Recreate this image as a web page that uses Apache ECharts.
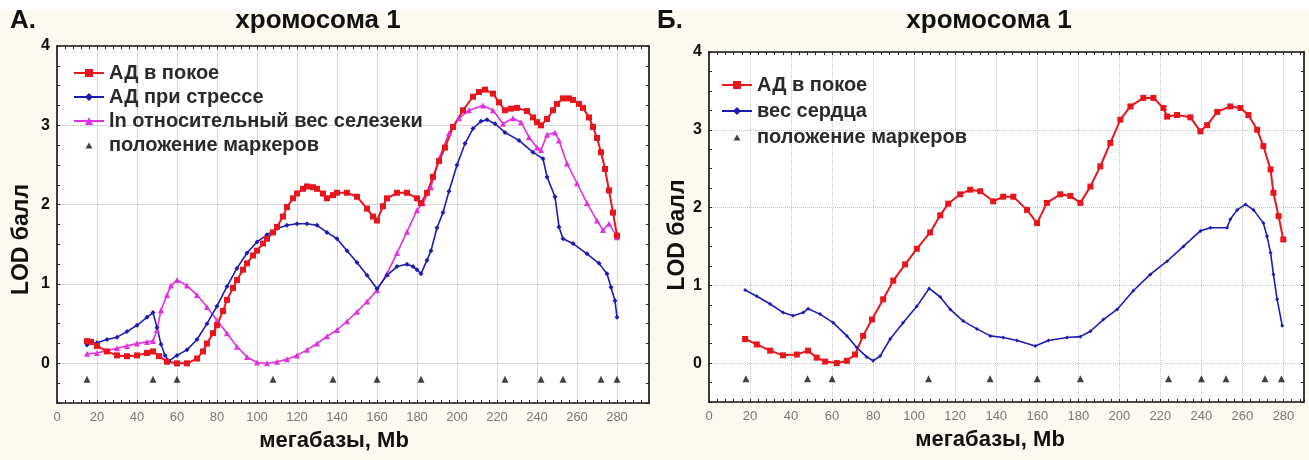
<!DOCTYPE html>
<html><head><meta charset="utf-8">
<script src="https://cdn.jsdelivr.net/npm/echarts@6/dist/echarts.min.js"></script>
<style>html,body{margin:0;padding:0;background:#fcf9f1}#c{width:1309px;height:460px}</style>
</head><body><div id="c"></div>
<script>
// ---------- data (Mb, LOD) ----------
const aRest = [[15,0.28],[17,0.27],[20,0.22],[25,0.15],[30,0.10],[35,0.09],[40,0.10],[45,0.13],[48,0.15],[51,0.09],[55,0.02],[60,0.0],[65,0.0],[70,0.06],[73,0.15],[75,0.25],[78,0.38],[80,0.48],[83,0.66],[85,0.8],[88,0.95],[90,1.05],[93,1.18],[95,1.26],[98,1.36],[100,1.42],[103,1.51],[105,1.57],[108,1.65],[110,1.72],[113,1.85],[115,1.97],[118,2.08],[120,2.14],[123,2.2],[125,2.23],[128,2.22],[130,2.2],[133,2.14],[135,2.08],[138,2.12],[140,2.15],[145,2.15],[150,2.1],[155,1.95],[158,1.85],[160,1.8],[163,1.98],[165,2.08],[170,2.15],[175,2.15],[180,2.08],[182,2.02],[185,2.15],[188,2.35],[191,2.55],[194,2.72],[198,2.98],[203,3.19],[208,3.36],[211,3.42],[214,3.45],[218,3.4],[221,3.29],[224,3.19],[227,3.21],[230,3.22],[235,3.18],[238,3.1],[240,3.04],[242,3.0],[245,3.08],[248,3.19],[250,3.27],[253,3.34],[256,3.34],[258,3.32],[261,3.27],[263,3.22],[266,3.1],[268,2.98],[270,2.84],[272,2.66],[274,2.45],[276,2.18],[278,1.9],[280,1.61]];
const aStress = [[15,0.23],[20,0.26],[25,0.3],[30,0.33],[35,0.4],[40,0.48],[45,0.58],[48,0.64],[50,0.45],[52,0.24],[54,0.1],[56,0.03],[60,0.1],[65,0.17],[70,0.3],[75,0.5],[80,0.72],[85,0.97],[90,1.2],[95,1.39],[100,1.53],[105,1.62],[110,1.7],[115,1.74],[120,1.76],[125,1.76],[130,1.74],[135,1.65],[140,1.57],[145,1.42],[150,1.27],[155,1.11],[160,0.94],[165,1.11],[170,1.22],[175,1.25],[178,1.22],[180,1.18],[182,1.13],[185,1.3],[187,1.42],[190,1.71],[193,1.9],[196,2.17],[200,2.5],[204,2.77],[208,2.96],[212,3.05],[215,3.07],[219,3.02],[224,2.91],[231,2.81],[238,2.66],[243,2.58],[245,2.35],[249,2.1],[251,1.72],[253,1.57],[258,1.51],[265,1.38],[271,1.26],[275,1.13],[277,0.96],[279,0.79],[280,0.58]];
const aSpleen = [[15,0.12],[20,0.13],[25,0.16],[30,0.19],[35,0.22],[40,0.25],[45,0.27],[48,0.28],[50,0.42],[52,0.67],[55,0.86],[57,0.98],[60,1.05],[65,0.98],[70,0.86],[75,0.71],[80,0.54],[85,0.38],[90,0.21],[95,0.08],[100,0.01],[105,0.0],[110,0.02],[115,0.05],[120,0.1],[125,0.17],[130,0.25],[135,0.34],[140,0.42],[145,0.53],[150,0.65],[155,0.78],[160,0.92],[165,1.13],[170,1.39],[175,1.66],[180,1.93],[183,2.02],[187,2.22],[191,2.58],[196,2.9],[201,3.09],[206,3.19],[213,3.25],[218,3.19],[223,3.02],[228,3.09],[232,3.04],[236,2.85],[240,2.72],[242,2.69],[245,2.88],[249,2.91],[251,2.81],[255,2.52],[260,2.27],[265,2.02],[270,1.8],[273,1.68],[276,1.76],[280,1.59]];
const aMarkersX = [15,48,60,108,138,160,182,224,242,253,272,280];

const bRest = [[17.6,0.31],[23.3,0.24],[29.8,0.16],[36.1,0.10],[42.8,0.11],[48.3,0.16],[52.5,0.07],[56.6,0.02],[62.3,0.0],[67.2,0.03],[71.2,0.11],[75.1,0.35],[79.4,0.56],[84.9,0.82],[89.8,1.06],[95.6,1.27],[101.3,1.47],[107.8,1.68],[112.7,1.9],[116.6,2.05],[122.4,2.17],[127.3,2.23],[132.2,2.21],[138.5,2.08],[143.4,2.14],[148.3,2.14],[155,1.97],[159.9,1.8],[164.7,2.06],[171.2,2.17],[176.1,2.15],[181,2.06],[185.9,2.27],[190.7,2.53],[195.6,2.83],[200.5,3.13],[205.4,3.3],[211.7,3.41],[216.6,3.41],[221.5,3.28],[223.3,3.17],[228.1,3.19],[234.6,3.16],[239.5,2.98],[242.8,3.06],[247.7,3.23],[254.1,3.3],[259,3.28],[262.9,3.19],[267.2,3.0],[270.2,2.79],[273.7,2.49],[275.1,2.19],[277.6,1.89],[279.9,1.59]];
const bHeart = [[17.6,0.94],[23.3,0.86],[29.8,0.76],[36.1,0.65],[41,0.61],[46,0.65],[48.3,0.7],[54.1,0.63],[60.5,0.52],[67.2,0.35],[72,0.2],[76.9,0.08],[80,0.03],[83.4,0.09],[88.3,0.31],[94.6,0.52],[101.3,0.73],[107.3,0.96],[112.7,0.85],[117.6,0.69],[123.9,0.54],[130.6,0.44],[137.1,0.35],[143.4,0.33],[150.1,0.29],[159,0.22],[165.4,0.29],[174.5,0.33],[181,0.34],[185.9,0.41],[192.2,0.56],[198.9,0.69],[206.8,0.93],[215.1,1.14],[223.3,1.31],[231.2,1.5],[239.5,1.7],[244.4,1.74],[252.5,1.74],[254.1,1.85],[257.4,1.97],[261.5,2.04],[265.4,1.97],[270.2,1.8],[272,1.63],[273.7,1.42],[275.1,1.14],[276.9,0.82],[279.4,0.48]];
const bMarkersX = [18,48,60,107,137,160,181,224,240,252,271,279];

const markerLOD = -0.2;
const yRange = [-0.5, 4];
const xMaxA = 296, xMaxB = 290;

// ---------- styling ----------
const FONT = 'Liberation Sans, Arial, sans-serif';
const RED = '#e8161c', BLUE = '#1c1cb4', MAG = '#e030e0';
const T = 'rgba(0,0,0,0)';
const TRI_ICON = 'path://M0,0M30,10M11.5,8.5L15,2.5L18.5,8.5Z';

function xAxes(grid, max, top, gridColor, gridType) {
  return {
    type: 'value', gridIndex: grid, min: 0, max: max, interval: 20,
    position: top ? 'top' : 'bottom',
    axisLine: { show: true, onZero: false, lineStyle: { color: '#111', width: 1.6 } },
    axisTick: { show: true, inside: true, length: 3, lineStyle: { color: '#222' } },
    minorTick: { show: true, splitNumber: 5, length: 3, lineStyle: { color: '#222' } },
    axisLabel: top ? { show: false } : { show: true, showMaxLabel: false, margin: 8, color: '#777', fontSize: 13, fontFamily: FONT },
    splitLine: top ? { show: false } : { show: true, lineStyle: { color: gridColor, width: 1, type: gridType } },
    name: top ? '' : 'мегабазы, Mb'
  };
}
function yAxes(grid, right, gridColor, gridType) {
  return {
    type: 'value', gridIndex: grid, min: yRange[0], max: yRange[1], interval: 0.25,
    position: right ? 'right' : 'left',
    axisLine: { show: true, onZero: false, lineStyle: { color: '#111', width: 1.6 } },
    axisTick: { show: true, inside: true, length: 3, lineStyle: { color: '#222' } },
    axisLabel: right ? { show: false } : {
      show: true, margin: 7, color: '#111', fontSize: 16, fontWeight: 'bold', fontFamily: FONT,
      formatter: v => Math.abs(v - Math.round(v)) < 1e-9 ? String(Math.round(v)) : ''
    },
    splitLine: right ? { show: false } : { show: true, lineStyle: { color: [T, T, gridColor, T], width: 1, type: gridType } }
  };
}

const xa0 = xAxes(0, xMaxA, false, '#d6d6d6', 'solid');
xa0.nameLocation = 'middle'; xa0.nameGap = 27;
xa0.nameTextStyle = { fontSize: 22, fontWeight: 'bold', color: '#111', fontFamily: FONT, padding: [0, 38, 0, 0] };
const xb0 = xAxes(1, xMaxB, false, '#c4c4c4', 'dotted');
xb0.nameLocation = 'middle'; xb0.nameGap = 27;
xb0.nameTextStyle = { fontSize: 22, fontWeight: 'bold', color: '#111', fontFamily: FONT, padding: [0, 33, 0, 0] };

const ya0 = yAxes(0, false, '#d6d6d6', 'solid');
ya0.name = 'LOD балл'; ya0.nameLocation = 'middle'; ya0.nameGap = 24;
ya0.nameTextStyle = { fontSize: 23, fontWeight: 'bold', color: '#111', fontFamily: FONT, padding: [0, 30, 0, 0] };
const yb0 = yAxes(1, false, '#c4c4c4', 'dotted');
yb0.name = 'LOD балл'; yb0.nameLocation = 'middle'; yb0.nameGap = 16;
yb0.nameTextStyle = { fontSize: 23, fontWeight: 'bold', color: '#111', fontFamily: FONT, padding: [0, 16, 0, 0] };

const legendText = { fontSize: 20, fontWeight: 'bold', color: '#2a2a2a', fontFamily: FONT };

const option = {
  animation: false,
  backgroundColor: '#fcf9f1',
  graphic: [
    { type: 'rect', shape: { x: 0, y: 0, width: 1309, height: 11 }, style: { fill: '#ffffff' }, silent: true },
    { type: 'text', x: 10, y: 21, style: { text: 'А.', font: 'bold 26px ' + FONT, fill: '#111', textVerticalAlign: 'middle' } },
    { type: 'text', x: 318, y: 21, style: { text: 'хромосома 1', font: 'bold 26px ' + FONT, fill: '#111', textAlign: 'center', textVerticalAlign: 'middle' } },
    { type: 'text', x: 657, y: 21, style: { text: 'Б.', font: 'bold 26px ' + FONT, fill: '#111', textVerticalAlign: 'middle' } },
    { type: 'text', x: 989, y: 21, style: { text: 'хромосома 1', font: 'bold 26px ' + FONT, fill: '#111', textAlign: 'center', textVerticalAlign: 'middle' } }
  ],
  grid: [
    { left: 57, top: 46, width: 592, height: 357, show: true, backgroundColor: '#ffffff', borderWidth: 0 },
    { left: 709, top: 52, width: 595, height: 350, show: true, backgroundColor: '#ffffff', borderWidth: 0 }
  ],
  xAxis: [xa0, xAxes(0, xMaxA, true), xb0, xAxes(1, xMaxB, true)],
  yAxis: [ya0, yAxes(0, true), yb0, yAxes(1, true)],
  legend: [
    { left: 68, top: 58, orient: 'vertical', itemWidth: 30, itemHeight: 10, itemGap: 4, selectedMode: false,
      textStyle: legendText,
      data: ['АД в покое', 'АД при стрессе', 'ln относительный вес селезеки', { name: 'положение маркеров', icon: TRI_ICON }] },
    { left: 716, top: 70, orient: 'vertical', itemWidth: 30, itemHeight: 10, itemGap: 6, selectedMode: false,
      textStyle: legendText,
      data: ['АД в покое', 'вес сердца', { name: 'положение маркеров', icon: TRI_ICON }] }
  ],
  series: [
    { name: 'ln относительный вес селезеки', type: 'line', xAxisIndex: 0, yAxisIndex: 0, data: aSpleen,
      symbol: 'triangle', symbolSize: 6, lineStyle: { color: MAG, width: 1.6 }, itemStyle: { color: MAG } },
    { name: 'АД при стрессе', type: 'line', xAxisIndex: 0, yAxisIndex: 0, data: aStress,
      symbol: 'diamond', symbolSize: 5, lineStyle: { color: BLUE, width: 1.6 }, itemStyle: { color: BLUE } },
    { name: 'АД в покое', type: 'line', xAxisIndex: 0, yAxisIndex: 0, data: aRest,
      symbol: 'rect', symbolSize: 6, lineStyle: { color: RED, width: 2 }, itemStyle: { color: RED } },
    { name: 'положение маркеров', type: 'scatter', xAxisIndex: 0, yAxisIndex: 0,
      data: aMarkersX.map(x => [x, markerLOD]), symbol: 'triangle', symbolSize: 7, itemStyle: { color: '#111' } },
    { name: 'вес сердца', type: 'line', xAxisIndex: 2, yAxisIndex: 2, data: bHeart,
      symbol: 'diamond', symbolSize: 4, lineStyle: { color: BLUE, width: 1.6 }, itemStyle: { color: BLUE } },
    { name: 'АД в покое', type: 'line', xAxisIndex: 2, yAxisIndex: 2, data: bRest,
      symbol: 'rect', symbolSize: 6, lineStyle: { color: RED, width: 2 }, itemStyle: { color: RED } },
    { name: 'положение маркеров', type: 'scatter', xAxisIndex: 2, yAxisIndex: 2,
      data: bMarkersX.map(x => [x, markerLOD]), symbol: 'triangle', symbolSize: 7, itemStyle: { color: '#111' } }
  ]
};
const chart = echarts.init(document.getElementById('c'), null, { renderer: 'canvas' });
chart.setOption(option);
</script></body></html>
